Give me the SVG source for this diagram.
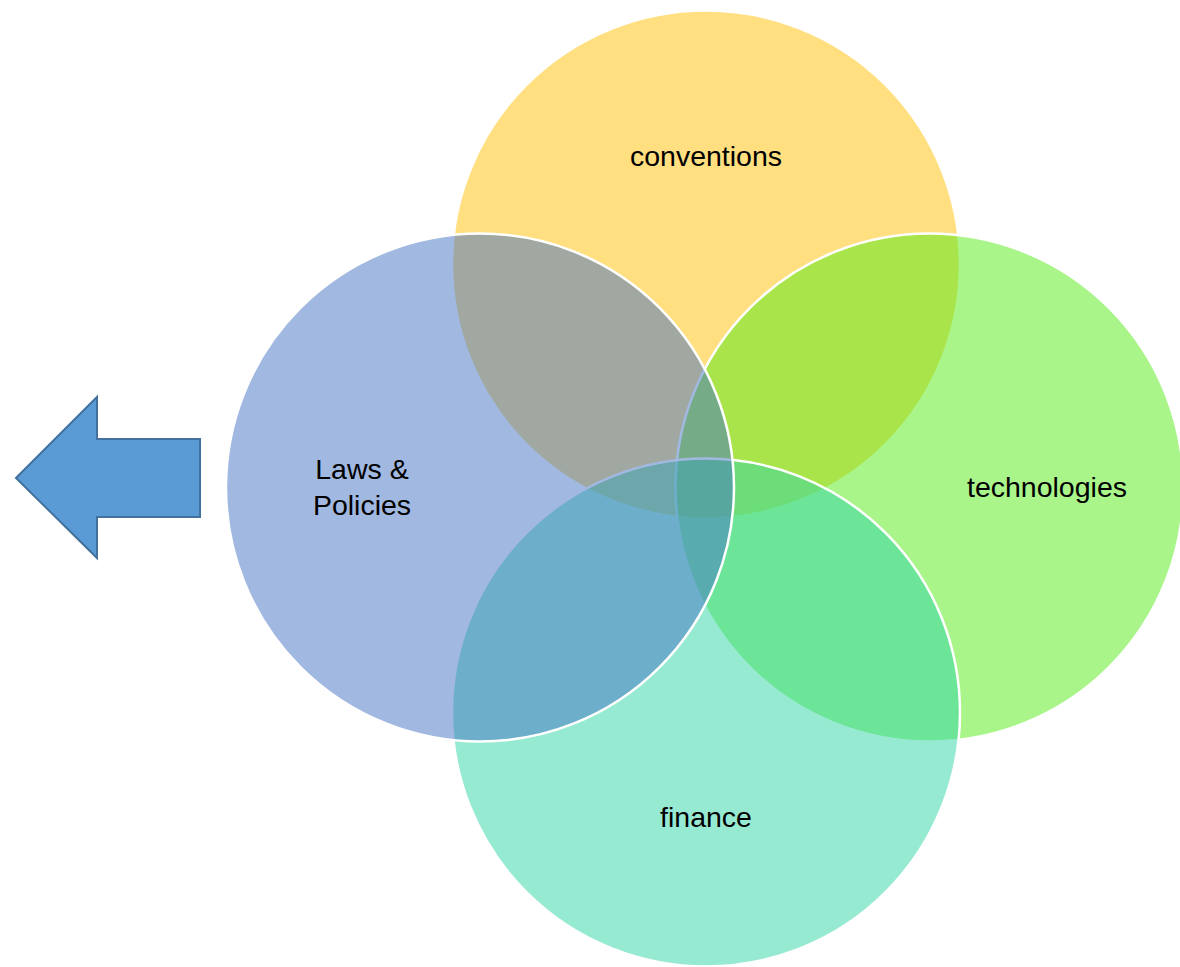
<svg xmlns="http://www.w3.org/2000/svg" width="1180" height="967" viewBox="0 0 1180 967">
  <style>
    .c { stroke: #FFFFFF; stroke-width: 2.5; fill-opacity: 0.5; }
    .t { font-family: "Liberation Sans", Arial, sans-serif; font-size: 28.5px; fill: #000000; text-anchor: middle; }
  </style>
  <rect x="0" y="0" width="1180" height="967" fill="#FFFFFF"/>
  <g id="arrow">
    <polygon points="16,478 97,397 97,439 200,439 200,517 97,517 97,558" fill="#5B9BD5" stroke="#41719C" stroke-width="2"/>
  </g>
  <g id="conventions">
    <circle class="c" cx="706" cy="264.5" r="254" fill="#FFC000"/>
  </g>
  <g id="technologies">
    <circle class="c" cx="929.5" cy="487.5" r="254" fill="#53EB15"/>
  </g>
  <g id="finance">
    <circle class="c" cx="706" cy="712.5" r="254" fill="#2FD5A5"/>
  </g>
  <g id="laws">
    <circle class="c" cx="480" cy="487.5" r="254" fill="#4472C4"/>
  </g>
  <g id="labels">
    <text class="t" x="706" y="166">conventions</text>
    <text class="t" x="1047" y="497">technologies</text>
    <text class="t" x="706" y="827">finance</text>
    <text class="t" x="362" y="479">Laws &amp;</text>
    <text class="t" x="362" y="515">Policies</text>
  </g>
  <g id="connectors"/>
</svg>
